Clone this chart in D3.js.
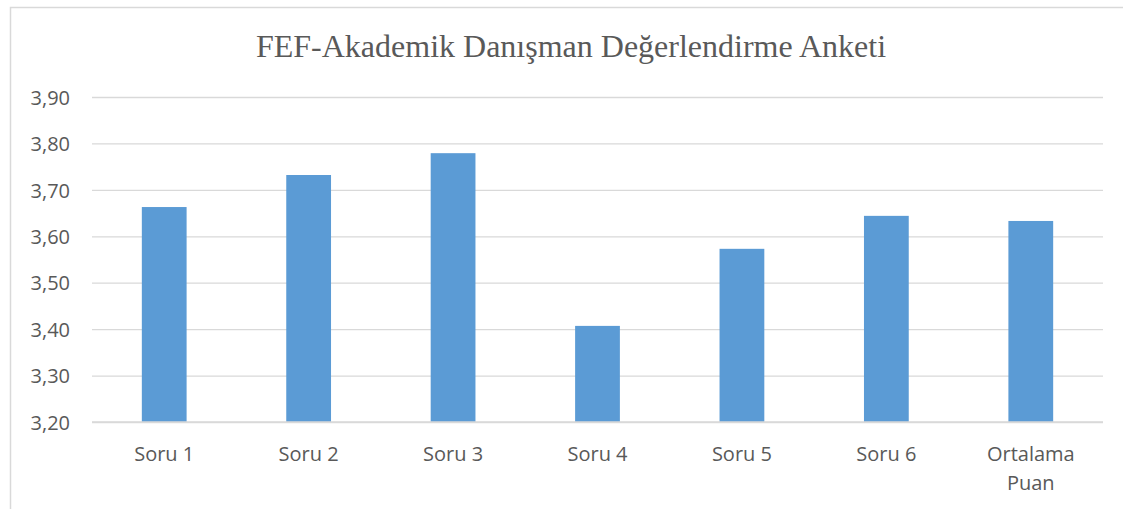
<!DOCTYPE html>
<html>
<head>
<meta charset="utf-8">
<script src="https://cdn.jsdelivr.net/npm/d3@7"></script>
<style>
  body { margin: 0; background: #fff; }
  svg { display: block; }
</style>
</head>
<body>
<div id="chart"></div>
<script>
// chart data
const categories = ["Soru 1", "Soru 2", "Soru 3", "Soru 4", "Soru 5", "Soru 6", "Ortalama Puan"];
const scores = [3.663, 3.732, 3.779, 3.407, 3.573, 3.644, 3.633];
const yTicks = [3.2, 3.3, 3.4, 3.5, 3.6, 3.7, 3.8, 3.9];

const W = 1123, H = 509;
const margin = {top: 97, right: 20, bottom: 87, left: 92};
const width = W - margin.left - margin.right;
const height = H - margin.top - margin.bottom;
const textColor = "#595959";
const sans = "'Open Sans', 'Noto Sans', sans-serif";

const svg = d3.select("#chart").append("svg")
  .attr("width", W)
  .attr("height", H);

// outer chart border
svg.append("rect")
  .attr("x", 10.5).attr("y", 7.5)
  .attr("width", W).attr("height", H)
  .attr("fill", "none")
  .attr("stroke", "#d9d9d9")
  .attr("stroke-width", 1.5);

const g = svg.append("g")
  .attr("transform", `translate(${margin.left}, ${margin.top})`);

const x = d3.scaleBand()
  .domain(categories)
  .range([0, width])
  .paddingInner(0.69)
  .paddingOuter(0.345);

const y = d3.scaleLinear()
  .domain([3.2, 3.9])
  .range([height, 0]);

const fmt = d => d3.format(".2f")(d).replace(".", ",");

// gridlines + y labels
const yAxis = g.append("g")
  .call(d3.axisLeft(y).tickValues(yTicks).tickSize(-width).tickPadding(22).tickFormat(fmt));
yAxis.select(".domain").remove();
yAxis.selectAll(".tick line").attr("stroke", "#d9d9d9").attr("stroke-width", 1.3);
yAxis.selectAll(".tick text")
  .attr("fill", textColor)
  .attr("dy", "0.36em")
  .style("font-family", sans)
  .style("font-size", "20px");

// bars
g.selectAll(".bar")
  .data(scores)
  .join("rect")
  .attr("class", "bar")
  .attr("x", (d, i) => x(categories[i]))
  .attr("y", d => y(d))
  .attr("width", x.bandwidth())
  .attr("height", d => height - y(d))
  .attr("fill", "#5b9bd5");

// baseline
g.append("line")
  .attr("x1", 0).attr("x2", width)
  .attr("y1", height).attr("y2", height)
  .attr("stroke", "#d9d9d9")
  .attr("stroke-width", 1.5);

// category labels (wrap long ones)
const labels = g.selectAll(".cat")
  .data(categories)
  .join("text")
  .attr("class", "cat")
  .attr("text-anchor", "middle")
  .attr("fill", textColor)
  .style("font-family", sans)
  .style("font-size", "20px")
  .attr("transform", d => `translate(${x(d) + x.bandwidth() / 2}, ${height + 39})`);
labels.each(function(d) {
  const words = d.split(" ");
  const lines = d.length > 10 ? [words[0], words.slice(1).join(" ")] : [d];
  d3.select(this).selectAll("tspan")
    .data(lines)
    .join("tspan")
    .attr("x", 0)
    .attr("dy", (l, i) => i === 0 ? 0 : 29)
    .text(l => l);
});

// title
svg.append("text")
  .attr("x", 571)
  .attr("y", 57)
  .attr("text-anchor", "middle")
  .attr("fill", textColor)
  .style("font-family", "'Times New Roman', 'Liberation Serif', serif")
  .style("font-size", "32px")
  .text("FEF-Akademik Danışman Değerlendirme Anketi");
</script>
</body>
</html>
